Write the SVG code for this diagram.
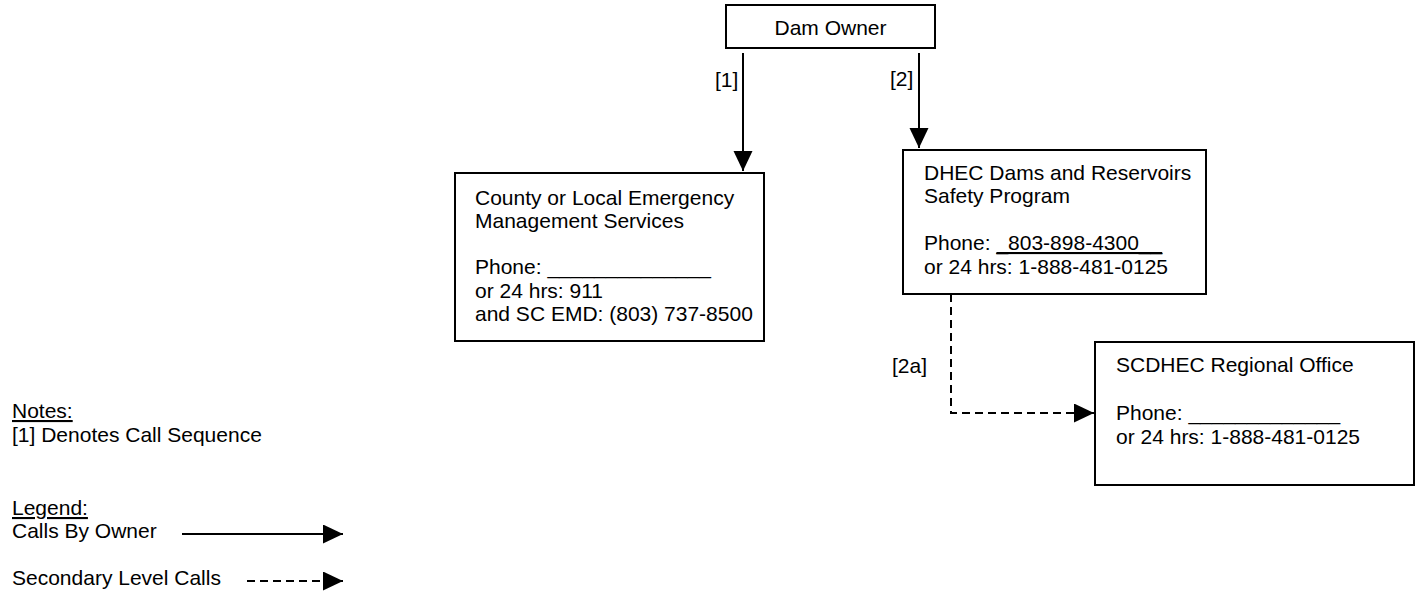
<svg xmlns="http://www.w3.org/2000/svg" width="1424" height="594" viewBox="0 0 1424 594">
<style>
text{font-family:"Liberation Sans",Arial,sans-serif;font-size:21px;fill:#000}
.box{fill:#fff;stroke:#000;stroke-width:2}
.ln{fill:none;stroke:#000;stroke-width:2}
.dash{stroke-dasharray:8 5}
.u{text-decoration:underline}
</style>
<defs>
<marker id="ah" markerUnits="userSpaceOnUse" markerWidth="22" markerHeight="20" refX="20" refY="9.5" orient="auto">
<path d="M0,0 L20,9.5 L0,19 Z" fill="#000"/>
</marker>
</defs>
<rect width="1424" height="594" fill="#fff"/>
<g id="connectors">
<line class="ln" x1="743" y1="53" x2="743" y2="171" marker-end="url(#ah)"/>
<line class="ln" x1="919" y1="53" x2="919" y2="148" marker-end="url(#ah)"/>
<polyline class="ln dash" points="951,294 951,413 1094,413" marker-end="url(#ah)"/>
<text x="715" y="87">[1]</text>
<text x="890" y="86">[2]</text>
<text x="892" y="373">[2a]</text>
</g>
<g id="dam-owner">
<rect class="box" x="726" y="5" width="209" height="43"/>
<text x="830.5" y="35" text-anchor="middle">Dam Owner</text>
</g>
<g id="county">
<rect class="box" x="455" y="173" width="309" height="168"/>
<text x="475" y="205">County or Local Emergency</text>
<text x="475" y="228">Management Services</text>
<text x="475" y="274">Phone: ______________</text>
<text x="475" y="298">or 24 hrs: 911</text>
<text x="475" y="321">and SC EMD: (803) 737-8500</text>
</g>
<g id="dhec">
<rect class="box" x="903" y="150" width="303" height="144"/>
<text x="924" y="180">DHEC Dams and Reservoirs</text>
<text x="924" y="203">Safety Program</text>
<text x="924" y="250">Phone: <tspan class="u">_803-898-4300__</tspan></text>
<text x="924" y="274">or 24 hrs: 1-888-481-0125</text>
</g>
<g id="scdhec">
<rect class="box" x="1095" y="342" width="319" height="143"/>
<text x="1116" y="372">SCDHEC Regional Office</text>
<text x="1116" y="420">Phone: _____________</text>
<text x="1116" y="444">or 24 hrs: 1-888-481-0125</text>
</g>
<g id="notes">
<text x="12" y="418" class="u">Notes:</text>
<text x="12" y="442">[1] Denotes Call Sequence</text>
</g>
<g id="legend">
<text x="12" y="515" class="u">Legend:</text>
<text x="12" y="538">Calls By Owner</text>
<text x="12" y="585">Secondary Level Calls</text>
<line class="ln" x1="182" y1="534" x2="343" y2="534" marker-end="url(#ah)"/>
<line class="ln dash" x1="247" y1="581" x2="343" y2="581" marker-end="url(#ah)"/>
</g>
</svg>
